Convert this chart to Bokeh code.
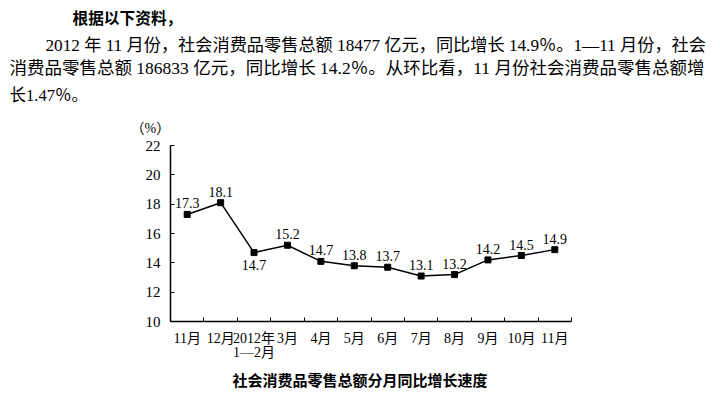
from bokeh.plotting import figure
from bokeh.models import Range1d, FixedTicker, Title, ColumnDataSource
from bokeh.core.properties import value
from bokeh.embed import file_html
from bokeh.resources import INLINE

months = ["11月", "12月", "2012年\n1—2月", "3月", "4月", "5月", "6月", "7月", "8月", "9月", "10月", "11月"]
growth = [17.3, 18.1, 14.7, 15.2, 14.1, 13.8, 13.7, 13.1, 13.2, 14.2, 14.5, 14.9]
point_labels = ["17.3", "18.1", "14.7", "15.2", "14.7", "13.8", "13.7", "13.1", "13.2", "14.2", "14.5", "14.9"]
y_ticks = [10, 12, 14, 16, 18, 20, 22]

intro_title = "根据以下资料，"
intro_lines = [
    "2012 年 11 月份，社会消费品零售总额 18477 亿元，同比增长 14.9％。1—11 月份，社会",
    "消费品零售总额 186833 亿元，同比增长 14.2％。从环比看，11 月份社会消费品零售总额增",
    "长1.47％。",
]
unit_label = "（%）"
caption = "社会消费品零售总额分月同比增长速度"

SERIF = "Liberation Serif, Noto Sans CJK SC"
CJK = "Noto Sans CJK SC"

n = len(months)
xs = [i + 0.5 for i in range(n)]

p = figure(width=716, height=394, output_backend="svg", toolbar_location=None,
           x_range=Range1d(0, n), y_range=Range1d(10, 22),
           min_border_left=170, min_border_right=145, min_border_top=145, min_border_bottom=71)
p.outline_line_color = None
p.grid.visible = False
p.background_fill_color = "white"
p.border_fill_color = "white"

# axes
xa = p.xaxis[0]
xa.ticker = FixedTicker(ticks=xs, minor_ticks=list(range(1, n + 1)))
xa.major_label_overrides = {x: m for x, m in zip(xs, months)}
xa.major_tick_in = 0
xa.major_tick_out = 0
xa.minor_tick_in = 4
xa.minor_tick_out = 0
xa.minor_tick_line_color = "black"
xa.axis_line_color = "black"
xa.axis_line_width = 1.5
xa.major_label_standoff = 9
xa.major_label_text_font = SERIF
xa.major_label_text_font_size = "14px"
xa.major_label_text_line_height = 0.95
xa.major_label_text_color = "black"

ya = p.yaxis[0]
ya.ticker = FixedTicker(ticks=y_ticks)
ya.major_tick_in = 4
ya.major_tick_out = 0
ya.minor_tick_in = 0
ya.minor_tick_out = 0
ya.axis_line_color = "black"
ya.axis_line_width = 1.5
ya.major_label_standoff = 10
ya.major_label_text_font = SERIF
ya.major_label_text_font_size = "15px"
ya.major_label_text_color = "black"

# series
p.line(xs, growth, line_color="black", line_width=1.5)
p.scatter(xs, growth, marker="square", size=6, fill_color="black", line_color="black")

above = [i for i in range(n) if i != 2]
below = [2]
src_a = ColumnDataSource(dict(x=[xs[i] for i in above], y=[growth[i] for i in above],
                              t=[point_labels[i] for i in above]))
src_b = ColumnDataSource(dict(x=[xs[i] for i in below], y=[growth[i] for i in below],
                              t=[point_labels[i] for i in below]))
p.text("x", "y", text="t", source=src_a, text_align="center", text_baseline="alphabetic",
       y_offset=-11, text_font=value(SERIF), text_font_size="14px", text_color="black")
p.text("x", "y", text="t", source=src_b, text_align="center", text_baseline="top",
       y_offset=7, text_font=value(SERIF), text_font_size="14px", text_color="black")


def add_title(txt, place, offset, size, standoff, bold=False, align="left", font=SERIF, lh=1.0):
    p.add_layout(Title(text=txt, align=align, offset=offset, standoff=standoff,
                       text_font=font, text_font_size=size, text_line_height=lh,
                       text_font_style="bold" if bold else "normal",
                       text_color="black"), place)

# stacked from the frame outward
add_title(unit_label, "above", -40, "14px", 19)
add_title(intro_lines[2], "above", -161, "16.5px", 10)
add_title(intro_lines[1], "above", -161, "17.5px", 1)
add_title(intro_lines[0], "above", -125, "17.2px", 2)
add_title(intro_title, "above", -98, "15.7px", 7, bold=True, font=CJK)
add_title(caption, "below", 62, "15px", 9, bold=True, align="left", font=CJK, lh=0.4)

open("out.html", "w").write(file_html(p, INLINE))
